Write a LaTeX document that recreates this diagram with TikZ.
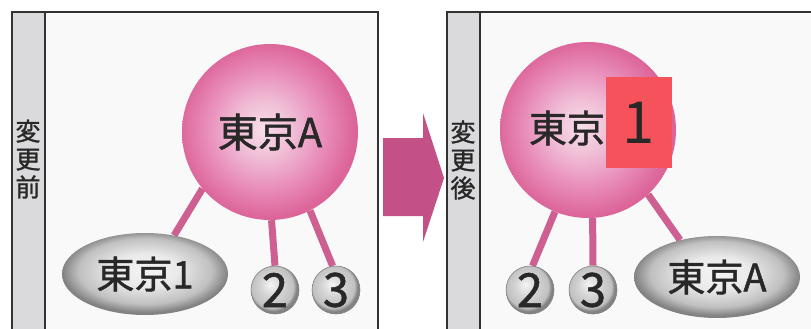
\documentclass[tikz,border=0pt]{standalone}
\usepackage{fontspec}
\newfontfamily\jp{Noto Sans CJK JP}[FakeBold=1.2]
\newfontfamily\jpthin{Noto Sans CJK JP}
\usetikzlibrary{shapes.geometric}
\pgfdeclarelayer{back}
\pgfdeclarelayer{lines}
\pgfsetlayers{back,lines,main}
\definecolor{pinkedge}{RGB}{220,100,152}
\definecolor{pinkmid}{RGB}{232,140,185}
\definecolor{pinklight}{RGB}{247,222,234}
\definecolor{pinksoft}{RGB}{240,190,214}
\definecolor{linepink}{RGB}{206,95,145}
\definecolor{arrowpink}{RGB}{196,80,136}
\definecolor{redsq}{RGB}{246,82,92}
\definecolor{greyedge}{RGB}{130,130,130}
\definecolor{greymid}{RGB}{192,192,192}
\definecolor{greylight}{RGB}{244,244,244}
\definecolor{stripgrey}{RGB}{218,218,220}
\definecolor{panelbg}{RGB}{249,249,249}
\definecolor{framec}{RGB}{50,50,50}
\definecolor{txt}{RGB}{40,40,40}
\pgfdeclareradialshading{pinkball}{\pgfpoint{-2bp}{1bp}}{color(0bp)=(pinklight); color(8bp)=(pinksoft); color(17bp)=(pinkmid); color(25bp)=(pinkedge); color(50bp)=(pinkedge)}
\pgfdeclareradialshading{greyball}{\pgfpoint{-5bp}{6bp}}{color(0bp)=(greylight); color(12bp)=(greymid!70!white); color(22bp)=(greymid); color(25bp)=(greyedge); color(50bp)=(greyedge)}
\pgfdeclareradialshading{greyoval}{\pgfpoint{0bp}{3bp}}{color(0bp)=(greylight); color(10bp)=(greylight!80!greymid); color(20bp)=(greymid); color(25bp)=(greyedge); color(50bp)=(greyedge)}
\begin{document}
\begin{tikzpicture}[x=1pt,y=-1pt,
  bigball/.style={circle, minimum size=176pt, inner sep=0pt, shade, shading=pinkball, text=txt, font=\jp\fontsize{40}{40}\selectfont},
  smallball/.style={circle, minimum size=48pt, inner sep=0pt, shade, shading=greyball, draw=greyedge, line width=0.6pt, text=txt, font=\jp\fontsize{47}{47}\selectfont},
  oval/.style={ellipse, minimum width=166pt, minimum height=82pt, inner sep=0pt, shade, shading=greyoval, text=txt, font=\jp\fontsize{38}{38}\selectfont},
  link/.style={draw=linepink, line width=7pt},
  frame/.style={draw=framec, line width=1.2pt},
  vlabel/.style={align=center, text=txt, inner sep=0pt, font=\jp\fontsize{25}{28}\selectfont},
  redbox/.style={fill=redsq, minimum width=66pt, minimum height=91pt, inner sep=0pt, text=txt, font=\jpthin\fontsize{58}{58}\selectfont}]
\useasboundingbox (0,0) rectangle (811,329);
\begin{pgfonlayer}{back}
  \fill[white] (0,0) rectangle (811,329);
  % left panel
  \fill[panelbg] (12,12) rectangle (378,335);
  \fill[stripgrey] (12,12) rectangle (45,335);
  \draw[frame] (12,335) -- (12,12) -- (378,12) -- (378,335);
  \draw[frame] (45,12) -- (45,335);
  % right panel
  \fill[panelbg] (447,12) rectangle (815,335);
  \fill[stripgrey] (447,12) rectangle (480,335);
  \draw[frame] (447,335) -- (447,12) -- (815,12);
  \draw[frame] (480,12) -- (480,335);
\end{pgfonlayer}
% labels
\node[vlabel] (before) at (28,159) {変\\更\\前};
\node[vlabel] (after) at (463,160) {変\\更\\後};
% arrow
\fill[arrowpink] (383,138) -- (423,138) -- (423,113) -- (444,178) -- (423,242) -- (423,216) -- (383,216) -- cycle;
% left diagram
\node[bigball] (A) at (270,132) {東京A};
\node[oval] (e1) at (145,274) {東京1};
\node[smallball] (b2) at (275,290) {2};
\node[smallball] (b3) at (336,290) {3};
% right diagram
\node[bigball] (A2) at (588,130) {};
\node[text=txt, font=\jp\fontsize{38}{38}\selectfont, inner sep=0pt] (t2) at (567,128) {東京};
\node[redbox] (r1) at (639,122.5) {1};
\node[smallball] (c2) at (530,290) {2};
\node[smallball] (c3) at (593,290) {3};
\node[oval] (e2) at (717,277) {東京A};
\begin{pgfonlayer}{lines}
  \draw[link] (A.220) -- (e1.53);
  \draw[link] (A.271) -- (b2.north);
  \draw[link] (A.297) -- (b3.98);
  \draw[link] (A2.248) -- (c2.84);
  \draw[link] (A2.273) -- (c3.north);
  \draw[link] (A2.313) -- (e2.135);
\end{pgfonlayer}
\end{tikzpicture}
\end{document}
